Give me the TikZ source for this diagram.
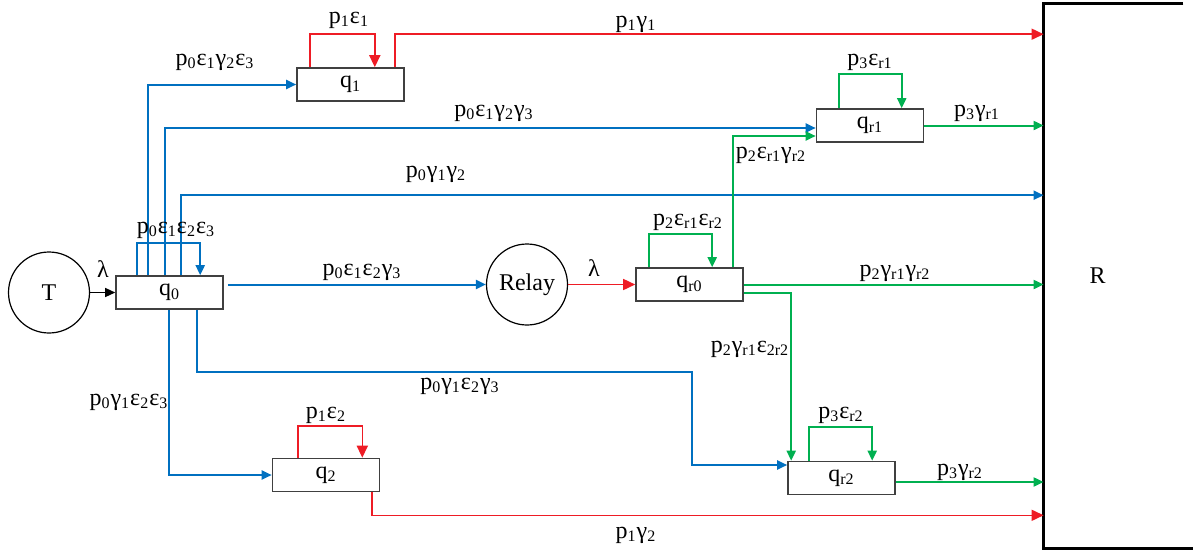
\documentclass[tikz,border=0pt]{standalone}
\usepackage{fontspec}
\setmainfont{Liberation Serif}
\usepackage{xcolor}
\usetikzlibrary{arrows.meta}
\definecolor{flowblue}{HTML}{0070C0}
\definecolor{flowred}{HTML}{EE1C25}
\definecolor{flowgreen}{HTML}{00B050}
\definecolor{boxgray}{HTML}{404040}
\newcommand{\sbs}[1]{\textsubscript{#1}}
\tikzset{
  statebox/.style={draw=boxgray,fill=white,line width=0.8pt,inner sep=0pt,
                   minimum width=53.5pt,minimum height=16.5pt,
                   font=\fontsize{12}{14}\selectfont},
  endcirc/.style={draw=black,circle,line width=0.6pt,inner sep=0pt,
                  minimum size=40.5pt,font=\fontsize{12}{14}\selectfont},
  sinkbox/.style={inner sep=0pt,minimum width=69.5pt,minimum height=272pt},
  sinkline/.style={draw=black,line width=1.6pt},
  lbl/.style={inner sep=0pt,font=\fontsize{12}{14}\selectfont},
  bluearr/.style={-{Triangle[length=5pt,width=4.5pt]},line width=1pt,
                  draw=flowblue},
  redarr/.style={-{Triangle[length=6pt,width=5.5pt]},line width=0.8pt,
                 draw=flowred},
  greenarr/.style={-{Triangle[length=5pt,width=4.5pt]},line width=1pt,
                   draw=flowgreen},
  blackarr/.style={-{Triangle[length=5pt,width=4.5pt]},line width=0.7pt,
                   draw=black}
}
\begin{document}
\begin{tikzpicture}[x=0.5pt,y=-0.5pt]
  \path[use as bounding box] (0,0) rectangle (1199,552);
  % states
  \node[endcirc] (T) at (49,292.5) {T};
  \node[statebox] (q0) at (169.5,292.5) {q\sbs{0}};
  \node[statebox] (q1) at (350.5,84.5) {q\sbs{1}};
  \node[statebox] (q2) at (326,475) {q\sbs{2}};
  \node[endcirc] (Relay) at (527,284.5) {Relay};
  \node[statebox] (qr0) at (689.5,284.5) {q\sbs{r0}};
  \node[statebox] (qr1) at (870,125.5) {q\sbs{r1}};
  \node[statebox] (qr2) at (841.5,478) {q\sbs{r2}};
  \node[sinkbox,label={[lbl,xshift=-8pt]center:R}] (R) at (1113.5,276) {};
  \draw[sinkline] (R.north east) -- (R.north west) -- (R.south west)
    -- ([shift={(10,0)}]R.south east);

  % self loops
  \draw[bluearr] ([shift={(22,0)}]q0.north west) -- ++(0,-32)
    -| ([shift={(85,0)}]q0.north west);
  \draw[redarr] ([shift={(14,0)}]q1.north west) -- ++(0,-33)
    -| ([shift={(-30,0)}]q1.north east);
  \draw[redarr] ([shift={(26.5,0)}]q2.north west) -- ++(0,-32)
    -| ([shift={(-18,0)}]q2.north east);
  \draw[greenarr] ([shift={(14,0)}]qr0.north west) -- ++(0,-33)
    -| ([shift={(77,0)}]qr0.north west);
  \draw[greenarr] ([shift={(23,0)}]qr1.north west) -- ++(0,-34)
    -| ([shift={(86,0)}]qr1.north west);
  \draw[greenarr] ([shift={(22,0)}]qr2.north west) -- ++(0,-34)
    -| ([shift={(85,0)}]qr2.north west);

  % source side
  \draw[blackarr] (T) -- (q0);
  \draw[bluearr,shorten <=2pt] (q0.east |- Relay.west) -- (Relay.west);
  \draw[bluearr] ([shift={(33,0)}]q0.north west) |- (q1.west);
  \draw[bluearr] ([shift={(50,0)}]q0.north west) |- ([shift={(0,2.5)}]qr1.west);
  \draw[bluearr] ([shift={(66,0)}]q0.north west) -- ++(0,-80) coordinate (c0)
    -- (c0 -| R.west);
  \draw[bluearr] ([shift={(53.5,0)}]q0.south west) |- (q2.west);
  \draw[bluearr] ([shift={(82,0)}]q0.south west) -- ++(0,62) -- ++(495,0)
    |- ([shift={(0,-13)}]qr2.west);
  \draw[redarr] ([shift={(-10,0)}]q1.north east) -- ++(0,-33) coordinate (c1)
    -- (c1 -| R.west);
  \draw[redarr] ([shift={(-8.5,0)}]q2.south east) -- ++(0,23) coordinate (c2)
    -- (c2 -| R.west);

  % relay side
  \draw[redarr] (Relay) -- (qr0);
  \draw[greenarr] ([shift={(98,0)}]qr0.north west) |- ([shift={(0,10.5)}]qr1.west);
  \draw[greenarr] (qr0.east) -- (qr0.east -| R.west);
  \draw[greenarr] ([shift={(0,8.5)}]qr0.east) -| ([shift={(4,0)}]qr2.north west);
  \draw[greenarr] (qr1.east) -- (qr1.east -| R.west);
  \draw[greenarr] ([shift={(0,4)}]qr2.east) coordinate (c3) -- (c3 -| R.west);

  % labels
  \node[lbl] (lamT) at (103,269) {λ};
  \node[lbl] (lamR) at (594,268) {λ};
  \node[lbl] (l1) at (349,20) {p\sbs{1}ε\sbs{1}};
  \node[lbl] (l2) at (636,24) {p\sbs{1}γ\sbs{1}};
  \node[lbl] (l3) at (215,62) {p\sbs{0}ε\sbs{1}γ\sbs{2}ε\sbs{3}};
  \node[lbl] (l4) at (870,62) {p\sbs{3}ε\sbs{r1}};
  \node[lbl] (l5) at (494,113) {p\sbs{0}ε\sbs{1}γ\sbs{2}γ\sbs{3}};
  \node[lbl] (l6) at (977,113) {p\sbs{3}γ\sbs{r1}};
  \node[lbl] (l7) at (771,155) {p\sbs{2}ε\sbs{r1}γ\sbs{r2}};
  \node[lbl] (l8) at (436,174) {p\sbs{0}γ\sbs{1}γ\sbs{2}};
  \node[lbl] (l9) at (176,230) {p\sbs{0}ε\sbs{1}ε\sbs{2}ε\sbs{3}};
  \node[lbl] (l10) at (688,222) {p\sbs{2}ε\sbs{r1}ε\sbs{r2}};
  \node[lbl] (l11) at (362,272) {p\sbs{0}ε\sbs{1}ε\sbs{2}γ\sbs{3}};
  \node[lbl] (l12) at (895,273) {p\sbs{2}γ\sbs{r1}γ\sbs{r2}};
  \node[lbl] (l13) at (750,349) {p\sbs{2}γ\sbs{r1}ε\sbs{2r2}};
  \node[lbl] (l14) at (460,386) {p\sbs{0}γ\sbs{1}ε\sbs{2}γ\sbs{3}};
  \node[lbl] (l15) at (129,402) {p\sbs{0}γ\sbs{1}ε\sbs{2}ε\sbs{3}};
  \node[lbl] (l16) at (326,415) {p\sbs{1}ε\sbs{2}};
  \node[lbl] (l17) at (841,415) {p\sbs{3}ε\sbs{r2}};
  \node[lbl] (l18) at (960,472) {p\sbs{3}γ\sbs{r2}};
  \node[lbl] (l19) at (636,535) {p\sbs{1}γ\sbs{2}};
\end{tikzpicture}
\end{document}
